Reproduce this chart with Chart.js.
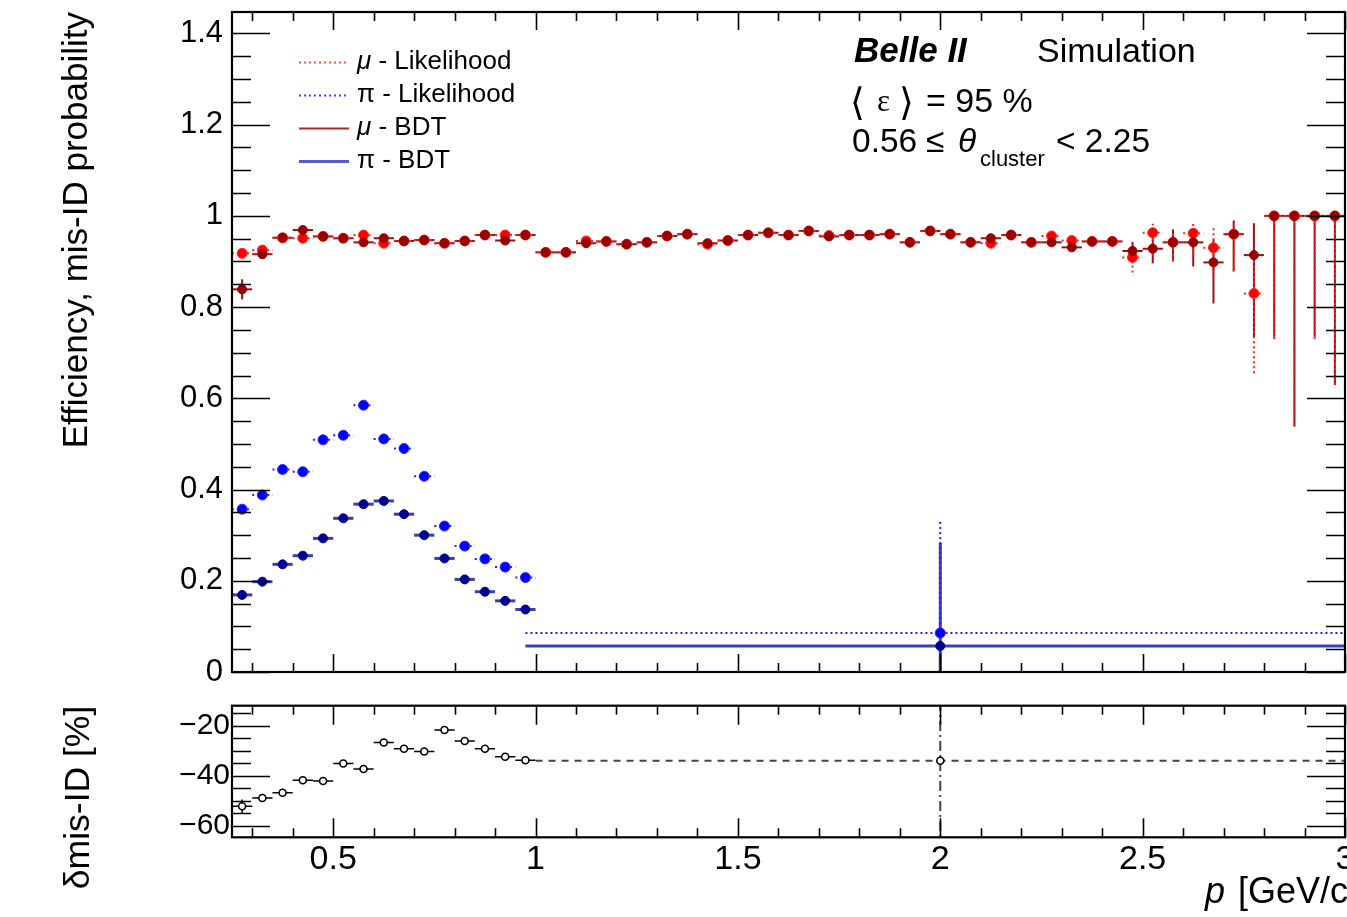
<!DOCTYPE html>
<html>
<head>
<meta charset="utf-8">
<script src="https://cdn.jsdelivr.net/npm/chart.js@4.4.1/dist/chart.umd.min.js"></script>
<style>
  html, body { margin: 0; padding: 0; background: #fff; overflow: hidden; }
  #wrap { position: relative; width: 1347px; height: 917px; }
  canvas { position: absolute; left: 0; }
  #boven { top: 0; }
  #onder { top: 700px; }
</style>
</head>
<body>
<div id="wrap">
  <canvas id="boven" width="1347" height="700"></canvas>
  <canvas id="onder" width="1347" height="217"></canvas>
</div>
<script>
// muon bins: 50 MeV wide, centres in GeV/c
const muBins = [
  0.275, 0.325, 0.375, 0.425, 0.475, 0.525, 0.575, 0.625, 0.675, 0.725,
  0.775, 0.825, 0.875, 0.925, 0.975, 1.025, 1.075, 1.125, 1.175, 1.225,
  1.275, 1.325, 1.375, 1.425, 1.475, 1.525, 1.575, 1.625, 1.675, 1.725,
  1.775, 1.825, 1.875, 1.925, 1.975, 2.025, 2.075, 2.125, 2.175, 2.225,
  2.275, 2.325, 2.375, 2.425, 2.475, 2.525, 2.575, 2.625, 2.675, 2.725,
  2.775, 2.825, 2.875, 2.925, 2.975
];
const muLikelihood = [
  0.918, 0.925, 0.952, 0.951, 0.955, 0.951, 0.958, 0.940, 0.945, 0.947,
  0.940, 0.945, 0.958, 0.958, 0.958, 0.920, 0.920, 0.945, 0.944, 0.938,
  0.942, 0.956, 0.960, 0.938, 0.946, 0.958, 0.963, 0.958, 0.967, 0.957,
  0.958, 0.958, 0.960, 0.942, 0.967, 0.960, 0.942, 0.940, 0.958, 0.942,
  0.956, 0.946, 0.944, 0.944, 0.909, 0.963, 0.942, 0.962, 0.930, 0.960,
  0.830, 1.0, 1.0, 1.0, 1.0
];
const muLikelihoodErrLo = [
  0.012, 0.005, 0.005, 0.005, 0.005, 0.005, 0.005, 0.005, 0.005, 0.005,
  0.005, 0.005, 0.005, 0.005, 0.005, 0.005, 0.005, 0.005, 0.005, 0.005,
  0.005, 0.005, 0.005, 0.005, 0.005, 0.005, 0.005, 0.005, 0.005, 0.005,
  0.005, 0.005, 0.005, 0.005, 0.005, 0.005, 0.005, 0.005, 0.005, 0.005,
  0.006, 0.006, 0.007, 0.008, 0.033, 0.050, 0.040, 0.050, 0.060, 0.080,
  0.175, 0.270, 0.460, 0.270, 0.370
];
const muLikelihoodErrHi = [
  0.010, 0.005, 0.005, 0.005, 0.005, 0.005, 0.005, 0.005, 0.005, 0.005,
  0.005, 0.005, 0.005, 0.005, 0.005, 0.005, 0.005, 0.005, 0.005, 0.005,
  0.005, 0.005, 0.005, 0.005, 0.005, 0.005, 0.005, 0.005, 0.005, 0.005,
  0.005, 0.005, 0.005, 0.005, 0.005, 0.005, 0.005, 0.005, 0.005, 0.005,
  0.006, 0.006, 0.007, 0.008, 0.024, 0.020, 0.028, 0.020, 0.046, 0.030,
  0.100, 0, 0, 0, 0
];
const muBDT = [
  0.839, 0.916, 0.952, 0.969, 0.955, 0.951, 0.942, 0.951, 0.945, 0.947,
  0.940, 0.945, 0.958, 0.946, 0.958, 0.920, 0.920, 0.940, 0.944, 0.938,
  0.942, 0.956, 0.960, 0.940, 0.946, 0.958, 0.963, 0.958, 0.967, 0.955,
  0.958, 0.958, 0.960, 0.942, 0.967, 0.960, 0.942, 0.951, 0.958, 0.942,
  0.942, 0.931, 0.944, 0.944, 0.923, 0.928, 0.942, 0.942, 0.898, 0.960,
  0.914, 1.0, 1.0, 1.0, 1.0
];
const muBDTErrLo = [
  0.022, 0.006, 0.005, 0.005, 0.005, 0.005, 0.005, 0.005, 0.005, 0.005,
  0.005, 0.005, 0.005, 0.005, 0.005, 0.005, 0.005, 0.005, 0.005, 0.005,
  0.005, 0.005, 0.005, 0.005, 0.005, 0.005, 0.005, 0.005, 0.005, 0.005,
  0.005, 0.005, 0.005, 0.005, 0.005, 0.005, 0.005, 0.005, 0.005, 0.005,
  0.006, 0.008, 0.008, 0.010, 0.027, 0.032, 0.042, 0.053, 0.090, 0.082,
  0.180, 0.265, 0.462, 0.265, 0.371
];
const muBDTErrHi = [
  0.022, 0.006, 0.005, 0.005, 0.005, 0.005, 0.005, 0.005, 0.005, 0.005,
  0.005, 0.005, 0.005, 0.005, 0.005, 0.005, 0.005, 0.005, 0.005, 0.005,
  0.005, 0.005, 0.005, 0.005, 0.005, 0.005, 0.005, 0.005, 0.005, 0.005,
  0.005, 0.005, 0.005, 0.005, 0.005, 0.005, 0.005, 0.005, 0.005, 0.005,
  0.006, 0.008, 0.008, 0.010, 0.020, 0.027, 0.028, 0.028, 0.050, 0.030,
  0.070, 0, 0, 0, 0
];

// pion bins: 50 MeV up to 1 GeV/c, then one wide bin
const piBins  = [0.275, 0.325, 0.375, 0.425, 0.475, 0.525, 0.575, 0.625, 0.675, 0.725, 0.775, 0.825, 0.875, 0.925, 0.975, 2.0];
const piBinLo = [0.25, 0.30, 0.35, 0.40, 0.45, 0.50, 0.55, 0.60, 0.65, 0.70, 0.75, 0.80, 0.85, 0.90, 0.95, 0.975];
const piBinHi = [0.30, 0.35, 0.40, 0.45, 0.50, 0.55, 0.60, 0.65, 0.70, 0.75, 0.80, 0.85, 0.90, 0.95, 1.00, 3.0];
const piLikelihood      = [0.357, 0.388, 0.444, 0.439, 0.509, 0.519, 0.585, 0.511, 0.490, 0.429, 0.320, 0.276, 0.248, 0.230, 0.207, 0.0855];
const piLikelihoodErrLo = [0.005, 0.005, 0.005, 0.005, 0.005, 0.005, 0.005, 0.005, 0.005, 0.005, 0.005, 0.005, 0.005, 0.005, 0.005, 0.09];
const piLikelihoodErrHi = [0.005, 0.005, 0.005, 0.005, 0.005, 0.005, 0.005, 0.005, 0.005, 0.005, 0.005, 0.005, 0.005, 0.005, 0.005, 0.248];
const piBDT      = [0.169, 0.198, 0.236, 0.255, 0.293, 0.337, 0.368, 0.375, 0.346, 0.300, 0.249, 0.203, 0.176, 0.156, 0.137, 0.057];
const piBDTErrLo = [0.005, 0.005, 0.005, 0.005, 0.005, 0.005, 0.005, 0.005, 0.005, 0.005, 0.005, 0.005, 0.005, 0.005, 0.005, 0.06];
const piBDTErrHi = [0.005, 0.005, 0.005, 0.005, 0.005, 0.005, 0.005, 0.005, 0.005, 0.005, 0.005, 0.005, 0.005, 0.005, 0.005, 0.226];

// relative change of the pion mis-ID rate, BDT vs likelihood [%]
const deltaBinLo = [0.25, 0.30, 0.35, 0.40, 0.45, 0.50, 0.55, 0.60, 0.65, 0.70, 0.75, 0.80, 0.85, 0.90, 0.95, 1.0];
const deltaMisID = [-52.2, -48.9, -46.8, -41.8, -42.1, -35.1, -37.3, -26.7, -29.2, -30.3, -21.7, -26.1, -29.2, -32.4, -33.8, -34.0];
const deltaErr   = [2.7, 1.2, 1.0, 1.0, 1.0, 1.0, 1.0, 0.8, 0.8, 0.8, 0.8, 0.8, 0.8, 0.8, 0.8, 100];

const yTicksTop = [0, 0.2, 0.4, 0.6, 0.8, 1, 1.2, 1.4];
const yTicksBottom = [-60, -40, -20];
const xTicks = [0.5, 1, 1.5, 2, 2.5, 3];

const letter = "'Liberation Sans', Arial, Helvetica, sans-serif";
Chart.defaults.font.family = letter;
Chart.defaults.color = "#000";

// error bars: horizontal = bin width, vertical = asymmetric errors
const foutBalken = {
  id: "foutBalken",
  beforeDatasetsDraw(chart) {
    const c = chart.ctx, xs = chart.scales.x, ys = chart.scales.y, a = chart.chartArea;
    c.save();
    c.beginPath();
    c.rect(a.left, a.top, a.right - a.left, a.bottom - a.top);
    c.clip();
    chart.data.datasets.forEach(ds => {
      const f = ds.fout;
      if (!f) return;
      c.strokeStyle = f.kleur;
      c.lineWidth = f.dikte;
      ds.data.forEach((p, i) => {
        const px = xs.getPixelForValue(p.x), py = ys.getPixelForValue(p.y);
        c.setLineDash(f.streepX || []);
        c.beginPath();
        c.moveTo(xs.getPixelForValue(f.xLo[i]), py);
        c.lineTo(xs.getPixelForValue(f.xHi[i]), py);
        c.stroke();
        c.setLineDash(f.streepY || []);
        c.beginPath();
        c.moveTo(px, ys.getPixelForValue(p.y - f.yLo[i]));
        c.lineTo(px, ys.getPixelForValue(p.y + f.yHi[i]));
        c.stroke();
      });
    });
    c.restore();
  }
};

// frame with inward ticks on all four sides
const kader = {
  id: "kader",
  afterDraw(chart, args, o) {
    const c = chart.ctx, xs = chart.scales.x, ys = chart.scales.y, a = chart.chartArea;
    c.save();
    c.strokeStyle = "#000";
    c.lineWidth = 1.6;
    for (let k = Math.ceil(xs.min / o.xStap - 1e-6); k <= Math.floor(xs.max / o.xStap + 1e-6); k++) {
      const px = Math.round(xs.getPixelForValue(k * o.xStap)) + 0.5;
      const l = k % o.xGroot === 0 ? o.xLang : o.xKort;
      c.beginPath();
      c.moveTo(px, a.bottom); c.lineTo(px, a.bottom - l);
      c.moveTo(px, a.top); c.lineTo(px, a.top + l);
      c.stroke();
    }
    for (let k = Math.ceil(ys.min / o.yStap - 1e-6); k <= Math.floor(ys.max / o.yStap + 1e-6); k++) {
      const py = Math.round(ys.getPixelForValue(k * o.yStap)) + 0.5;
      const l = k % o.yGroot === 0 ? o.yLang : o.yKort;
      c.beginPath();
      c.moveTo(a.left, py); c.lineTo(a.left + l, py);
      c.moveTo(a.right, py); c.lineTo(a.right - l, py);
      c.stroke();
    }
    c.lineWidth = 2.2;
    c.strokeRect(a.left, a.top, a.right - a.left, a.bottom - a.top);
    c.restore();
  }
};

// legend, experiment label and selection text in the top panel
const opschriften = {
  id: "opschriften",
  afterDraw(chart) {
    const c = chart.ctx;
    const ds = chart.data.datasets;
    c.save();
    c.fillStyle = "#000";
    c.textAlign = "left";
    c.textBaseline = "alphabetic";

    const rijen = [62, 95, 128, 161];
    [2, 3, 0, 1].forEach((d, r) => {
      const f = ds[d].fout, y = rijen[r];
      c.strokeStyle = f.legendaKleur;
      c.lineWidth = f.legendaDikte;
      c.setLineDash(f.streepX || []);
      c.beginPath();
      c.moveTo(299, y + 0.5); c.lineTo(349, y + 0.5);
      c.stroke();
      c.setLineDash([]);
      c.font = (ds[d].deeltje === "μ" ? "italic " : "") + "26px " + letter;
      c.fillText(ds[d].deeltje, 357, y + 7);
      const w = c.measureText(ds[d].deeltje).width;
      c.font = "26px " + letter;
      c.fillText(" - " + ds[d].methode, 357 + w, y + 7);
    });

    c.font = "italic bold 35px " + letter;
    c.fillText("Belle II", 854, 62);
    c.font = "34px " + letter;
    c.fillText("Simulation", 1037, 62);

    c.font = "38px 'DejaVu Sans', sans-serif";
    c.fillText("\u27E8", 850, 115);
    c.fillText("\u27E9", 899, 115);
    c.font = "31px 'Liberation Serif', serif";
    c.fillText("ε", 877, 111);
    c.font = "34px " + letter;
    c.fillText("= 95 %", 926, 112);

    c.font = "33.5px " + letter;
    c.fillText("0.56", 852, 152);
    c.fillText("\u2264", 926, 152);
    c.font = "italic 33.5px " + letter;
    c.fillText("θ", 958, 152);
    c.font = "22px " + letter;
    c.fillText("cluster", 980, 166);
    c.font = "33.5px " + letter;
    c.fillText("< 2.25", 1056, 152);
    c.restore();
  }
};

// x-axis title under the ratio panel, right-aligned at the edge
const asTitel = {
  id: "asTitel",
  afterDraw(chart) {
    const c = chart.ctx;
    c.save();
    c.fillStyle = "#000";
    c.textBaseline = "alphabetic";
    c.textAlign = "left";
    c.font = "italic 36px " + letter;
    c.fillText("p", 1205, 203);
    c.font = "36px " + letter;
    c.fillText(" [GeV/c]", 1205 + c.measureText("p").width + 3, 203);
    c.restore();
  }
};

const halveBin = 0.025;

const bovenData = {
  datasets: [
    {
      deeltje: "μ", methode: "BDT",
      data: muBins.map((x, i) => ({ x: x, y: muBDT[i] })),
      pointRadius: 4.5, pointBackgroundColor: "#990000", pointBorderColor: "#990000", pointBorderWidth: 1,
      fout: {
        xLo: muBins.map(b => b - halveBin), xHi: muBins.map(b => b + halveBin),
        yLo: muBDTErrLo, yHi: muBDTErrHi,
        kleur: "#a01010", dikte: 2, legendaKleur: "#b02828", legendaDikte: 2
      }
    },
    {
      deeltje: "π", methode: "BDT",
      data: piBins.map((x, i) => ({ x: x, y: piBDT[i] })),
      pointRadius: 4.5, pointBackgroundColor: "#000090", pointBorderColor: "#000090", pointBorderWidth: 1,
      fout: {
        xLo: piBinLo, xHi: piBinHi, yLo: piBDTErrLo, yHi: piBDTErrHi,
        kleur: "#3c3cb4", dikte: 3, legendaKleur: "#5a5ad0", legendaDikte: 3
      }
    },
    {
      deeltje: "μ", methode: "Likelihood",
      data: muBins.map((x, i) => ({ x: x, y: muLikelihood[i] })),
      pointRadius: 5, pointBackgroundColor: "#ff0000", pointBorderColor: "#ff2a2a", pointBorderWidth: 1,
      fout: {
        xLo: muBins.map(b => b - halveBin), xHi: muBins.map(b => b + halveBin),
        yLo: muLikelihoodErrLo, yHi: muLikelihoodErrHi,
        kleur: "#ff2020", dikte: 2, streepX: [2, 3], streepY: [2, 3],
        legendaKleur: "#ff5050", legendaDikte: 2
      }
    },
    {
      deeltje: "π", methode: "Likelihood",
      data: piBins.map((x, i) => ({ x: x, y: piLikelihood[i] })),
      pointRadius: 5, pointBackgroundColor: "#0000ff", pointBorderColor: "#2a2aff", pointBorderWidth: 1,
      fout: {
        xLo: piBinLo, xHi: piBinHi, yLo: piLikelihoodErrLo, yHi: piLikelihoodErrHi,
        kleur: "#2020ff", dikte: 2, streepX: [2, 3], streepY: [2, 3],
        legendaKleur: "#4040ff", legendaDikte: 2
      }
    }
  ]
};

const boven = new Chart(document.getElementById("boven"), {
  type: "scatter",
  data: bovenData,
  options: {
    responsive: false,
    animation: false,
    events: [],
    layout: { autoPadding: false, padding: { left: 0, right: 2, top: 12, bottom: 28 } },
    plugins: {
      legend: { display: false },
      tooltip: { enabled: false },
      kader: { xStap: 0.1, xGroot: 5, xLang: 18, xKort: 9, yStap: 0.05, yGroot: 4, yLang: 38, yKort: 19 }
    },
    scales: {
      x: { type: "linear", min: 0.25, max: 3, display: false },
      y: {
        type: "linear", min: 0, max: 1.447,
        afterBuildTicks: s => { s.ticks = yTicksTop.map(v => ({ value: v })); },
        afterFit: s => { s.width = 232; s.paddingTop = 0; s.paddingBottom = 0; },
        grid: { display: false, drawTicks: false },
        border: { display: false },
        ticks: {
          font: { size: 31 }, color: "#000", padding: 9,
          callback: v => String(Math.round(v * 10) / 10)
        },
        title: {
          display: true, text: "Efficiency, mis-ID probability", align: "end",
          font: { size: 35 }, color: "#000", padding: { top: 56, bottom: 0 }
        }
      }
    }
  },
  plugins: [foutBalken, kader, opschriften]
});

const onderData = {
  datasets: [
    {
      data: deltaMisID.slice(0, 15).map((y, i) => ({ x: piBins[i], y: y })),
      pointRadius: 3.5, pointBackgroundColor: "#fff", pointBorderColor: "#000", pointBorderWidth: 1.6,
      fout: {
        xLo: deltaBinLo.slice(0, 15), xHi: piBinHi.slice(0, 15),
        yLo: deltaErr.slice(0, 15), yHi: deltaErr.slice(0, 15),
        kleur: "#000", dikte: 1.5
      }
    },
    {
      data: deltaMisID.slice(15).map((y, i) => ({ x: piBins[15 + i], y: y })),
      pointRadius: 3.5, pointBackgroundColor: "#fff", pointBorderColor: "#000", pointBorderWidth: 1.6,
      fout: {
        xLo: deltaBinLo.slice(15), xHi: piBinHi.slice(15),
        yLo: deltaErr.slice(15), yHi: deltaErr.slice(15),
        kleur: "#444", dikte: 2, streepX: [7, 6], streepY: [10, 4, 2, 4]
      }
    }
  ]
};

const onder = new Chart(document.getElementById("onder"), {
  type: "scatter",
  data: onderData,
  options: {
    responsive: false,
    animation: false,
    events: [],
    layout: { autoPadding: false, padding: { left: 0, right: 2, top: 5.7, bottom: 0 } },
    plugins: {
      legend: { display: false },
      tooltip: { enabled: false },
      kader: { xStap: 0.1, xGroot: 5, xLang: 19, xKort: 9, yStap: 5, yGroot: 4, yLang: 38, yKort: 19 }
    },
    scales: {
      x: {
        type: "linear", min: 0.25, max: 3,
        afterBuildTicks: s => { s.ticks = xTicks.map(v => ({ value: v })); },
        afterFit: s => { s.height = 79.7; s.paddingLeft = 0; s.paddingRight = 0; },
        grid: { display: false, drawTicks: false },
        border: { display: false },
        ticks: { font: { size: 34 }, color: "#000", padding: 2, autoSkip: false, maxRotation: 0, callback: v => String(v) }
      },
      y: {
        type: "linear", min: -64.6, max: -12,
        afterBuildTicks: s => { s.ticks = yTicksBottom.map(v => ({ value: v })); },
        afterFit: s => { s.width = 232; s.paddingTop = 0; s.paddingBottom = 0; },
        grid: { display: false, drawTicks: false },
        border: { display: false },
        ticks: { font: { size: 30 }, color: "#000", padding: 2, callback: v => (v < 0 ? "\u2212" : "") + Math.abs(v) },
        title: {
          display: true, text: "δmis-ID [%]", align: "end",
          font: { size: 35.5 }, color: "#000", padding: { top: 58, bottom: 0 }
        }
      }
    }
  },
  plugins: [foutBalken, kader, asTitel]
});
</script>
</body>
</html>
